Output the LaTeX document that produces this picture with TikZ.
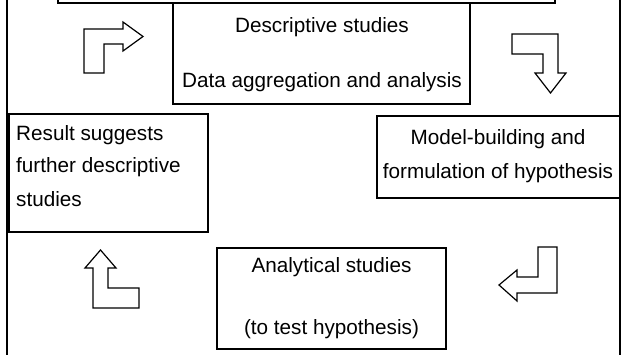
\documentclass[tikz,border=0pt]{standalone}
\usepackage{fontspec}
\setmainfont{Liberation Sans}
\begin{document}
\begin{tikzpicture}[x=1pt,y=-1pt,
  box/.style={draw=black,line width=1.3pt},
  frame/.style={draw=black,line width=2pt},
  blockarrow/.style={draw=black,line width=1.2pt,line join=miter,fill=white},
  lbl/.style={inner sep=0pt,font=\fontsize{20.7}{24}\selectfont}]
\useasboundingbox (0,0) rectangle (622,355);
\clip (0,0) rectangle (622,355);
\fill[white] (0,0) rectangle (622,355);
% outer frame
\draw[frame] (7,-20) rectangle (620,375);
% top box (cut off)
\draw[box] (58,-30) rectangle (555,3);
% boxes
\draw[box] (173,3) rectangle (470,104);
\draw[box] (9,114) rectangle (208,232);
\draw[box] (377,116) rectangle (620,198);
\draw[box] (217,248) rectangle (446,349);
% texts
\node[lbl] (d1) at (322,27) {Descriptive studies};
\node[lbl] (d2) at (322,82) {Data aggregation and analysis};
\node[lbl,anchor=west] (r1) at (16,135) {Result suggests};
\node[lbl,anchor=west] (r2) at (16,167) {further descriptive};
\node[lbl,anchor=west] (r3) at (16,199) {studies};
\node[lbl] (m1) at (498,139) {Model-building and};
\node[lbl] (m2) at (498,173) {formulation of hypothesis};
\node[lbl] (a1) at (331.5,267) {Analytical studies};
\node[lbl] (a2) at (331.5,329) {(to test hypothesis)};
% block arrows
\draw[blockarrow] (84,73) -- (84,29) -- (123,29) -- (123,22) -- (143,36.5) -- (123,51) -- (123,44) -- (104,44) -- (104,73) -- cycle;
\draw[blockarrow] (512,34) -- (558,34) -- (558,73) -- (566,73) -- (550.5,93) -- (535,73) -- (543,73) -- (543,54) -- (512,54) -- cycle;
\draw[blockarrow] (557,247) -- (557,293) -- (517,293) -- (517,301) -- (499,285) -- (517,270) -- (517,277) -- (538,277) -- (538,247) -- cycle;
\draw[blockarrow] (93,308) -- (93,268) -- (85,268) -- (100.5,250) -- (116,268) -- (108,268) -- (108,288) -- (139,288) -- (139,308) -- cycle;
\end{tikzpicture}
\end{document}
